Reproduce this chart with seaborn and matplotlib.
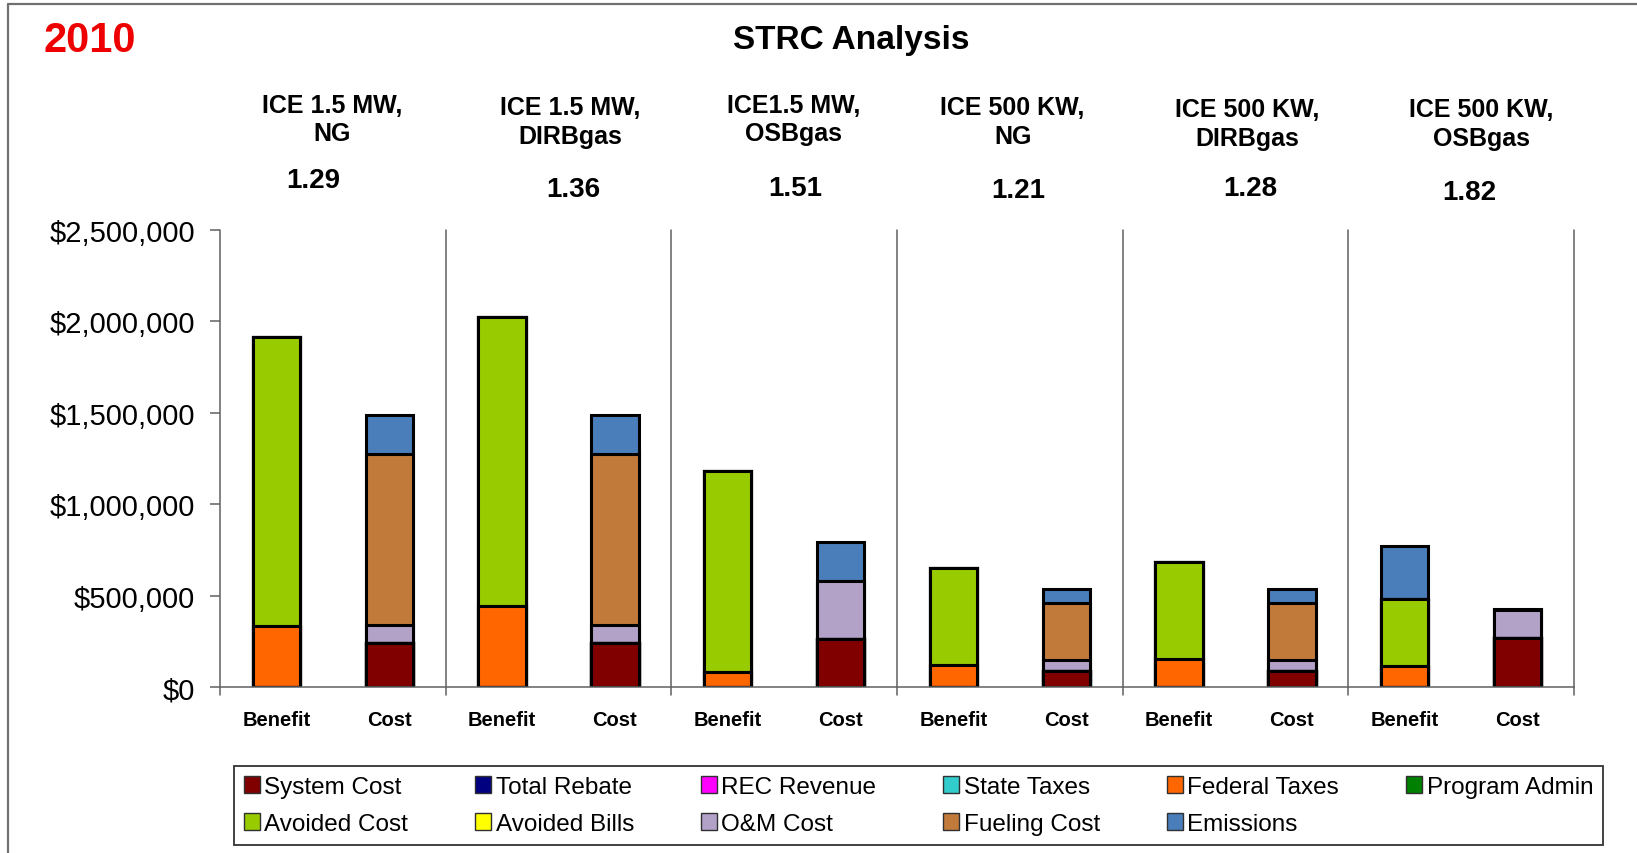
import numpy as np
import pandas as pd
import matplotlib
matplotlib.use("Agg")
import matplotlib.pyplot as plt
from matplotlib.patches import Patch
from matplotlib.lines import Line2D
from matplotlib.ticker import FuncFormatter
import seaborn as sns

# ---------------- data ----------------
groups = ["ICE 1.5 MW,\nNG", "ICE 1.5 MW,\nDIRBgas", "ICE1.5 MW,\nOSBgas",
          "ICE 500 KW,\nNG", "ICE 500 KW,\nDIRBgas", "ICE 500 KW,\nOSBgas"]
ratios = ["1.29", "1.36", "1.51", "1.21", "1.28", "1.82"]
bar_types = ["Benefit", "Cost"]

series_names = ["System Cost", "Total Rebate", "REC Revenue", "State Taxes",
                "Federal Taxes", "Program Admin", "Avoided Cost", "Avoided Bills",
                "O&M Cost", "Fueling Cost", "Emissions"]
series_colors = ["#800000", "#000080", "#FF00FF", "#33CCCC", "#FF6600", "#008000",
                 "#99CC00", "#FFFF00", "#B3A2C7", "#C27A3A", "#4A7EBB"]

# order of bars: G1 Benefit, G1 Cost, G2 Benefit, G2 Cost, ...
system_cost   = [0, 241000, 0, 241000, 0, 262000, 0, 91000, 0, 91000, 0, 270000]
total_rebate  = [0] * 12
rec_revenue   = [0] * 12
state_taxes   = [0] * 12
federal_taxes = [334000, 0, 443000, 0, 85000, 0, 122000, 0, 155000, 0, 118000, 0]
program_admin = [0] * 12
avoided_cost  = [1581000, 0, 1581000, 0, 1099000, 0, 529000, 0, 530000, 0, 365000, 0]
avoided_bills = [0] * 12
om_cost       = [0, 100000, 0, 100000, 0, 319000, 0, 57000, 0, 57000, 0, 151000]
fueling_cost  = [0, 934000, 0, 934000, 0, 0, 0, 313000, 0, 313000, 0, 0]
emissions     = [0, 215000, 0, 215000, 0, 211000, 0, 75000, 0, 75000, 290000, 6000]

series_values = [system_cost, total_rebate, rec_revenue, state_taxes, federal_taxes,
                 program_admin, avoided_cost, avoided_bills, om_cost, fueling_cost,
                 emissions]

bar_keys = [f"{g}|{t}" for g in range(len(groups)) for t in bar_types]
bar_labels = [t for g in range(len(groups)) for t in bar_types]

rows = []
cum = np.zeros(len(bar_keys))
for name, vals in zip(series_names, series_values):
    cum = cum + np.array(vals, dtype=float)
    for k, top in zip(bar_keys, cum):
        rows.append({"bar": k, "series": name, "top": top})
df = pd.DataFrame(rows)

# ---------------- style ----------------
sns.set_style("white")
plt.rcParams["font.family"] = ["Liberation Sans", "DejaVu Sans"]
plt.rcParams["text.color"] = "black"
plt.rcParams["xtick.color"] = "black"
plt.rcParams["ytick.color"] = "black"
plt.rcParams["axes.labelcolor"] = "black"

W, H = 1637, 854
fig = plt.figure(figsize=(W / 100, H / 100), dpi=100)
ax = fig.add_axes([220 / W, 1 - 688.3 / H, (1574 - 220) / W, (688.3 - 231) / H])

# stacked bars: draw cumulative tops from highest to lowest
for name, color in reversed(list(zip(series_names, series_colors))):
    sub = df[df["series"] == name]
    sns.barplot(data=sub, x="bar", y="top", order=bar_keys, color=color,
                saturation=1, width=0.42, edgecolor="black", linewidth=2.2,
                errorbar=None, ax=ax)

ax.set_xlim(-0.5, len(bar_keys) - 0.5)
ax.set_ylim(0, 2500000)
ax.set_yticks(np.arange(0, 2500001, 500000))
ax.yaxis.set_major_formatter(FuncFormatter(lambda v, p: f"${v:,.0f}"))
ax.set_xticks(range(len(bar_keys)))
ax.set_xticklabels(bar_labels, fontsize=14.5, fontweight="bold", color="black")
ax.set_xlabel("")
ax.set_ylabel("")
ax.tick_params(axis="x", length=0, pad=16, labelcolor="black")
ax.tick_params(axis="y", labelsize=21, length=7, width=1.1, color="#606060",
               pad=11, left=True, direction="out", labelcolor="black")

for s in ["top", "right", "left"]:
    ax.spines[s].set_visible(False)
ax.spines["bottom"].set_color("#606060")
ax.spines["bottom"].set_linewidth(1.1)

# group separators (incl. left and right borders)
for xv in np.arange(-0.5, len(bar_keys), 2):
    ax.axvline(xv, ymin=-0.016, ymax=1, color="#606060", lw=1.1, clip_on=False)

# ---------------- texts ----------------
def fx(px):
    return px / W

def fy(py):
    return 1 - py / H

s = 1637 / 1568
fig.text(fx(86 * s), fy(39 * s), "2010", color="#EE0000", fontsize=30,
         fontweight="bold", ha="center", va="center")
fig.text(fx(815 * s), fy(38.5 * s), "STRC Analysis", fontsize=24,
         fontweight="bold", ha="center", va="center", color="black")

title_pos = [(318, 115), (546, 117.5), (760, 115), (970, 117.5), (1195, 119), (1419, 119)]
ratio_pos = [(300, 173), (549, 182), (762, 181), (975, 183), (1198, 181), (1407, 185)]
for g, (x, y), (rx, ry), r in zip(groups, title_pos, ratio_pos, ratios):
    fig.text(fx(x * s), fy(y * s), g, fontsize=18, fontweight="bold",
             ha="center", va="center", linespacing=1.25, color="black")
    fig.text(fx(rx * s), fy(ry * s), r, fontsize=20, fontweight="bold",
             ha="center", va="center", color="black")

# frame lines
fig.add_artist(Line2D([fx(8), 1], [fy(5), fy(5)], transform=fig.transFigure,
                      color="#707070", lw=1.6))
fig.add_artist(Line2D([fx(8), fx(8)], [fy(5), 0], transform=fig.transFigure,
                      color="#707070", lw=1.6))

# ---------------- legend ----------------
handles = {n: Patch(facecolor=c, edgecolor="#303030", linewidth=1.0)
           for n, c in zip(series_names, series_colors)}
row1 = series_names[:6]
row2 = series_names[6:]
order = []
for i in range(6):
    order.append(row1[i])
    if i < len(row2):
        order.append(row2[i])
leg = fig.legend([handles[n] for n in order], order, ncol=6,
                 bbox_to_anchor=(234 / W, 1 - 846 / H, (1603 - 234) / W, (846 - 767) / H),
                 loc="center", mode="expand", borderaxespad=0, fontsize=17.5,
                 frameon=True, fancybox=False, edgecolor="black",
                 handlelength=0.65, handleheight=0.65, handletextpad=0.2,
                 labelspacing=0.62, borderpad=0.4, columnspacing=1.0,
                 labelcolor="black")
leg.get_frame().set_linewidth(1.3)

fig.savefig("out.png", dpi=100, facecolor="white")
